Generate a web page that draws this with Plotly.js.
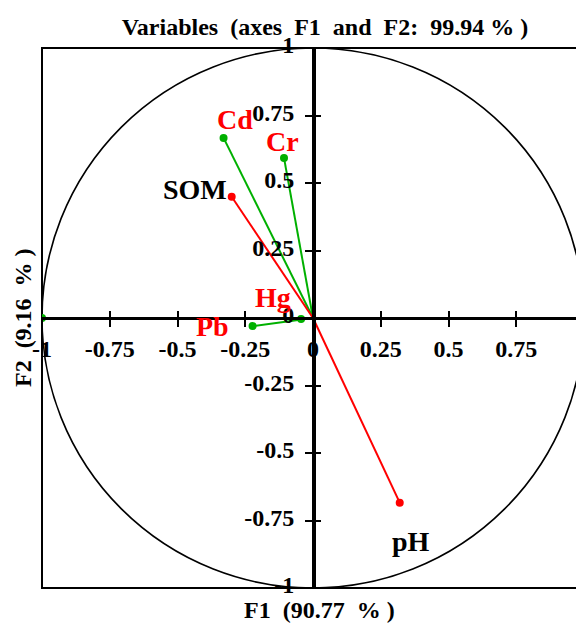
<!DOCTYPE html>
<html><head><meta charset="utf-8">
<script src="https://cdn.plot.ly/plotly-3.0.1.min.js"></script>
<style>html,body{margin:0;padding:0;overflow:hidden;background:#fff}</style>
</head><body><div id="chart" style="width:600px;height:623px"></div>
<script>
// ---- data ----
const variables = ['Cd', 'Cr', 'SOM', 'Hg', 'Pb', 'pH', ''];
const f1 = [-0.33, -0.107, -0.30, -0.044, -0.223, 0.32, -1.0];
const f2 = [0.667, 0.593, 0.449, -0.004, -0.03, -0.684, 0.0];
const groups = ['metal', 'metal', 'soil', 'metal', 'metal', 'soil', 'metal'];
const tickVals = [-1, -0.75, -0.5, -0.25, 0, 0.25, 0.5, 0.75, 1];
const yTickText = ['-1', '-0.75', '-0.5', '-0.25', '0', '0.25', '0.5', '0.75', '1'];
const xTickText = ['-1', '-0.75', '-0.5', '-0.25', '0', '0.25', '0.5', '0.75', ''];
const titleText = 'Variables\u00a0\u00a0(axes\u00a0\u00a0F1\u00a0\u00a0and\u00a0\u00a0F2:\u00a0\u00a099.94\u00a0%\u00a0)';
const xTitle = 'F1\u00a0\u00a0(90.77\u00a0\u00a0%\u00a0)';
const yTitle = 'F2\u00a0\u00a0(9.16\u00a0\u00a0%\u00a0)';

// ---- styles ----
const FONT = 'Liberation Serif, Times New Roman, serif';
const vecColor = {metal: '#00B000', soil: '#FF0000'};
const labColor = {metal: '#FF0000', soil: '#000000'};
// label offsets in pixels [xanchor, xshift, yshift]
const labOffset = {
  'Cd': ['center', 11, 18],
  'Cr': ['center', -2, 16],
  'SOM': ['right', -3, 7],
  'Hg': ['center', -28, 22],
  'Pb': ['center', -40, 0],
  'pH': ['center', 11, -39]
};

const traces = [];
variables.forEach((v, i) => {
  traces.push({
    x: [0, f1[i]], y: [0, f2[i]], mode: 'lines',
    line: {color: vecColor[groups[i]], width: 2},
    hoverinfo: 'skip', showlegend: false
  });
});
traces.push({
  x: f1, y: f2, mode: 'markers',
  marker: {size: 8, color: groups.map(g => vecColor[g])},
  text: variables, hoverinfo: 'text', showlegend: false
});
// helper trace so the overlay axes (inner half of tick marks) are drawn
traces.push({x: [0], y: [0], xaxis: 'x2', yaxis: 'y2', mode: 'markers',
  marker: {opacity: 0}, hoverinfo: 'skip', showlegend: false});

const annotations = [];
variables.forEach((v, i) => {
  if (!v) return;
  const o = labOffset[v];
  annotations.push({
    x: f1[i], y: f2[i], xref: 'x', yref: 'y', text: '<b>' + v + '</b>',
    showarrow: false, xanchor: o[0], yanchor: 'middle', xshift: o[1], yshift: o[2],
    font: {family: FONT, size: 28, color: labColor[groups[i]]}
  });
});
annotations.push({
  xref: 'paper', yref: 'paper', x: 0.512, y: -0.041, text: '<b>' + xTitle + '</b>',
  showarrow: false, xanchor: 'center', yanchor: 'middle',
  font: {family: FONT, size: 24, color: '#000'}
});
annotations.push({
  xref: 'paper', yref: 'paper', x: -0.035, y: 0.5, text: '<b>' + yTitle + '</b>',
  showarrow: false, xanchor: 'center', yanchor: 'middle', textangle: -90,
  font: {family: FONT, size: 24, color: '#000'}
});

const axBase = {
  range: [-1, 1], anchor: 'free', position: 0.5, showgrid: false, zeroline: false,
  tickmode: 'array', tickvals: tickVals,
  tickcolor: '#000', tickwidth: 2, ticklen: 7, fixedrange: true
};

const layout = {
  width: 600, height: 623,
  margin: {l: 42, r: 16, t: 48, b: 35},
  paper_bgcolor: '#fff', plot_bgcolor: '#fff',
  title: {text: '<b>' + titleText + '</b>', x: 0.522, xref: 'paper', xanchor: 'center',
    y: 1 - 27 / 623, yref: 'container', yanchor: 'middle',
    font: {family: FONT, size: 24, color: '#000'}},
  xaxis: Object.assign({}, axBase, {
    ticktext: xTickText,
    ticks: 'outside', showline: true, linewidth: 3, linecolor: '#000',
    tickfont: {family: FONT, size: 24, color: '#000', weight: 'bold'},
    ticklabelstandoff: 1
  }),
  yaxis: Object.assign({}, axBase, {
    ticktext: yTickText,
    ticks: 'outside', showline: true, linewidth: 3.5, linecolor: '#000', side: 'left',
    tickfont: {family: FONT, size: 24, color: '#000', weight: 'bold'},
    ticklabelstandoff: 6, ticklabelshift: -3
  }),
  xaxis2: Object.assign({}, axBase, {overlaying: 'x', ticks: 'inside', showticklabels: false, showline: false}),
  yaxis2: Object.assign({}, axBase, {overlaying: 'y', ticks: 'inside', showticklabels: false, showline: false}),
  shapes: [
    {type: 'rect', xref: 'paper', yref: 'paper', x0: 0, x1: 1, y0: 0, y1: 1,
      line: {color: '#000', width: 2}, layer: 'below'},
    {type: 'circle', xref: 'x', yref: 'y', x0: -1, x1: 1, y0: -1, y1: 1,
      line: {color: '#000', width: 1.6}, layer: 'below'}
  ],
  annotations: annotations
};

Plotly.newPlot('chart', traces, layout, {displayModeBar: false, staticPlot: true});
</script>
</body></html>
